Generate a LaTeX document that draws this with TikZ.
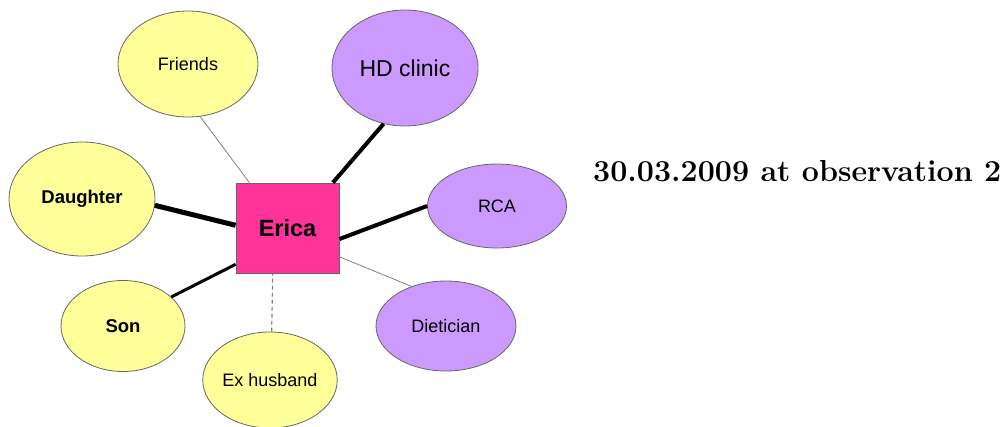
\documentclass[tikz,border=0pt]{standalone}
\usepackage{fontspec}
\newfontfamily\arialfont{Liberation Sans}
\usetikzlibrary{shapes.geometric}
\definecolor{famyellow}{HTML}{FFFF99}
\definecolor{carepurple}{HTML}{CC99FF}
\definecolor{egopink}{HTML}{FF3399}
\definecolor{rimgray}{HTML}{666666}
\begin{document}
\begin{tikzpicture}[x=1pt,y=-1pt,
  person/.style={ellipse, draw=rimgray, line width=0.8pt, inner sep=0pt,
    font=\arialfont\fontsize{18}{20}\selectfont},
  family/.style={person, fill=famyellow},
  service/.style={person, fill=carepurple},
  ego/.style={rectangle, draw=rimgray, line width=0.8pt, fill=egopink,
    minimum width=103pt, minimum height=90pt, inner sep=0pt,
    font=\arialfont\bfseries\fontsize{23.5}{26}\selectfont},
  weak/.style={draw=gray, line width=0.8pt},
  strong/.style={draw=black, line width=4pt},
  strongest/.style={draw=black, line width=5pt},
  medium/.style={draw=black, line width=3pt},
  broken/.style={draw=gray, line width=1.2pt, dashed, dash pattern=on 4pt off 3pt}]
\useasboundingbox (0,0) rectangle (1007,427);

% central person
\node[ego] (erica) at (287.5,228) {Erica};

% family and friends
\node[family, minimum width=140pt, minimum height=106pt] (friends) at (188,64) {Friends};
\node[family, minimum width=146pt, minimum height=114pt,
  font=\arialfont\bfseries\fontsize{18.5}{20}\selectfont] (daughter) at (82,199) {Daughter};
\node[family, minimum width=124pt, minimum height=91pt,
  font=\arialfont\bfseries\fontsize{18.5}{20}\selectfont] (son) at (123,326) {Son};
\node[family, minimum width=126pt, minimum height=96pt] (exhusband) at (270,380) {Ex husband};

% services
\node[service, minimum width=146pt, minimum height=116pt,
  font=\arialfont\fontsize{23}{26}\selectfont] (hdclinic) at (405,68) {HD clinic};
\node[service, minimum width=139pt, minimum height=84pt] (rca) at (497,206) {RCA};
\node[service, minimum width=140pt, minimum height=90pt] (dietician) at (446,326) {Dietician};

% ties
\draw[weak] (friends.-77) -- (erica.130);
\draw[strong] (hdclinic.-111) -- (erica.45);
\draw[strongest] (daughter.-5) -- (erica.177);
\draw[strong] (rca.180) -- (erica.-12);
\draw[medium] (son.31) -- (erica.215);
\draw[broken] (exhusband.88) -- (erica.252);
\draw[weak] (dietician.131) -- (erica.-29);

% caption
\node[anchor=base west, inner sep=0pt,
  font=\bfseries\fontsize{30.4}{35}\selectfont] (caption) at (593,182)
  {30.03.2009 at observation 2};
\end{tikzpicture}
\end{document}
